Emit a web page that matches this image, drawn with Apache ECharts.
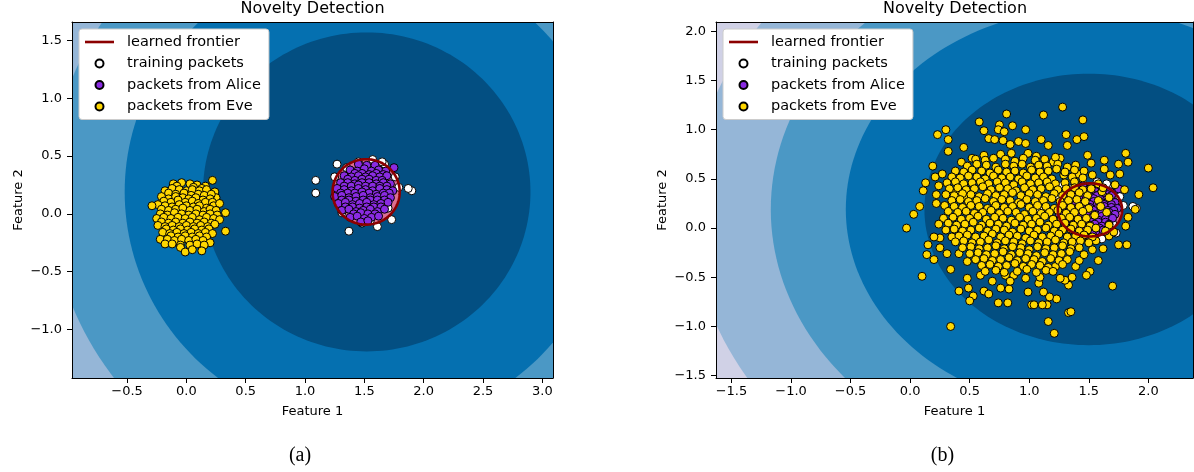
<!DOCTYPE html>
<html>
<head>
<meta charset="utf-8">
<title>Novelty Detection</title>
<script src="https://cdn.jsdelivr.net/npm/echarts@6/dist/echarts.min.js"></script>
<style>
  html, body { margin: 0; padding: 0; background: #fff; }
  #chart { width: 1194px; height: 472px; }
</style>
</head>
<body>
<div id="chart"></div>
<script>
// ---- data ----
var titleText = 'Novelty Detection';
var captions = ['(a)', '(b)'];
var legendLabels = ['learned frontier', 'training packets', 'packets from Alice', 'packets from Eve'];

var xTicksA = [-0.5, 0, 0.5, 1, 1.5, 2, 2.5, 3];
var yTicksA = [-1, -0.5, 0, 0.5, 1, 1.5];
var xTicksB = [-1.5, -1, -0.5, 0, 0.5, 1, 1.5, 2];
var yTicksB = [-1.5, -1, -0.5, 0, 0.5, 1, 1.5, 2];
var xRangeA = [-0.964, 3.09], yRangeA = [-1.42, 1.66];
var xRangeB = [-1.63, 2.375], yRangeB = [-1.524, 2.095];

// contour bands of the decision function (outer to inner radius)
var levelRadii = [3.34, 2.67, 2.04, 1.38];
var levelColors = ['#95b6d7', '#4b98c5', '#0570b0', '#034f82'];
var outerColor = '#d0d1e6';
var bandCenterA = [1.52, 0.19], bandCenterB = [1.5, 0.19];

// learned frontier (level 0)
var frontierCenterA = [1.515, 0.19], frontierRadiusA = 0.283;
var frontierCenterB = [1.51, 0.185], frontierRadiusB = 0.27;

var trainPts = [[1.09,0.29],[1.09,0.18],[1.27,0.43],[1.25,0.32],[1.57,0.47],[1.67,0.43],[1.79,0.23],[1.9,0.2],
  [1.73,-0.05],[1.61,-0.11],[1.37,-0.15],[1.31,0.01],[1.28,0.19],[1.45,0.45],[1.35,0.4],[1.76,0.32],[1.7,0.05],
  [1.48,-0.08],[1.55,-0.06],[1.4,0.2],[1.5,0.25],[1.6,0.15],[1.55,0.3],[1.45,0.1],[1.87,0.22],[1.65,0.45]];

var alicePts = [[1.45,0.43],[1.52,0.42],[1.59,0.42],
  [1.38,0.38],[1.44,0.37],[1.5,0.39],[1.56,0.37],[1.62,0.38],[1.68,0.37],[1.75,0.4],
  [1.42,0.35],[1.48,0.35],[1.54,0.34],[1.6,0.35],[1.66,0.34],
  [1.33,0.33],[1.39,0.32],[1.45,0.33],[1.51,0.32],[1.57,0.33],[1.63,0.32],[1.69,0.33],
  [1.36,0.3],[1.42,0.29],[1.48,0.3],[1.54,0.3],[1.6,0.29],[1.65,0.29],
  [1.3,0.27],[1.36,0.27],[1.42,0.26],[1.48,0.27],[1.54,0.27],[1.6,0.26],[1.66,0.27],[1.72,0.26],
  [1.33,0.24],[1.39,0.24],[1.45,0.25],[1.51,0.24],[1.57,0.24],[1.63,0.24],[1.69,0.24],
  [1.27,0.22],[1.33,0.21],[1.39,0.2],[1.45,0.22],[1.51,0.21],[1.57,0.2],[1.63,0.22],[1.69,0.21],[1.74,0.2],
  [1.3,0.18],[1.36,0.18],[1.42,0.18],[1.48,0.19],[1.54,0.18],[1.6,0.17],[1.66,0.18],[1.71,0.18],
  [1.25,0.15],[1.31,0.16],[1.37,0.14],[1.43,0.15],[1.49,0.16],[1.55,0.14],[1.61,0.15],[1.67,0.16],[1.72,0.14],
  [1.31,0.12],[1.37,0.12],[1.43,0.11],[1.49,0.12],[1.55,0.12],[1.61,0.12],[1.67,0.12],
  [1.28,0.09],[1.34,0.1],[1.4,0.08],[1.46,0.09],[1.52,0.1],[1.58,0.08],[1.64,0.09],[1.7,0.1],
  [1.34,0.06],[1.4,0.06],[1.46,0.05],[1.52,0.06],[1.58,0.06],[1.64,0.06],
  [1.31,0.03],[1.37,0.04],[1.43,0.02],[1.49,0.03],[1.55,0.04],[1.61,0.02],[1.67,0.04],
  [1.41,0.0],[1.47,0.01],[1.53,0.0],[1.59,0.0],
  [1.38,-0.03],[1.44,-0.02],[1.5,-0.04],[1.56,-0.03],[1.62,-0.02],
  [1.47,-0.07],[1.53,-0.06]];

var evePtsA = [[-0.11,0.26],[-0.04,0.27],[0.03,0.26],[0.09,0.25],[0.16,0.24],[0.22,0.29],[-0.08,0.24],[0.06,0.23],[0.13,0.22],
  [-0.18,0.2],[-0.12,0.22],[-0.06,0.21],[0.0,0.2],[0.05,0.21],[0.11,0.2],[0.17,0.21],[0.24,0.19],[0.25,0.14],
  [-0.15,0.18],[-0.09,0.17],[-0.02,0.18],[0.04,0.16],[0.1,0.17],[0.15,0.16],[0.21,0.17],
  [-0.21,0.15],[-0.15,0.13],[-0.09,0.15],[-0.03,0.14],[0.02,0.13],[0.08,0.14],[0.14,0.12],[0.2,0.13],
  [-0.19,0.11],[-0.13,0.1],[-0.07,0.12],[-0.01,0.1],[0.05,0.11],[0.1,0.09],[0.16,0.1],[0.22,0.1],
  [-0.24,0.08],[-0.18,0.07],[-0.12,0.06],[-0.06,0.08],[0.0,0.07],[0.06,0.06],[0.11,0.07],[0.17,0.05],[0.23,0.07],[0.28,0.09],
  [-0.29,0.07],[-0.21,0.04],[-0.15,0.03],[-0.09,0.04],[-0.03,0.05],[0.03,0.03],[0.09,0.04],[0.15,0.02],[0.2,0.04],[0.25,0.03],
  [-0.22,0.0],[-0.16,-0.01],[-0.1,0.01],[-0.04,0.0],[0.02,-0.01],[0.08,0.0],[0.14,-0.01],[0.2,0.0],[0.26,-0.01],[0.33,0.01],
  [-0.25,-0.04],[-0.19,-0.03],[-0.13,-0.04],[-0.07,-0.03],[-0.01,-0.04],[0.05,-0.03],[0.11,-0.05],[0.17,-0.03],[0.23,-0.04],[0.28,-0.05],
  [-0.21,-0.07],[-0.15,-0.08],[-0.09,-0.07],[-0.03,-0.08],[0.03,-0.07],[0.09,-0.08],[0.15,-0.07],[0.21,-0.08],
  [-0.24,-0.1],[-0.18,-0.11],[-0.12,-0.1],[-0.06,-0.11],[0.0,-0.1],[0.06,-0.11],[0.12,-0.1],[0.18,-0.11],[0.24,-0.09],
  [-0.17,-0.13],[-0.11,-0.14],[-0.05,-0.13],[0.01,-0.14],[0.07,-0.13],[0.13,-0.14],[0.19,-0.13],
  [-0.2,-0.16],[-0.14,-0.17],[-0.08,-0.16],[-0.02,-0.17],[0.04,-0.16],[0.1,-0.17],[0.16,-0.16],[0.22,-0.17],[0.33,-0.15],
  [-0.13,-0.19],[-0.07,-0.2],[-0.01,-0.19],[0.05,-0.2],[0.11,-0.19],[0.17,-0.2],
  [-0.22,-0.22],[-0.16,-0.22],[-0.1,-0.23],[-0.04,-0.22],[0.02,-0.23],[0.08,-0.22],[0.14,-0.23],[0.2,-0.25],
  [-0.18,-0.26],[-0.12,-0.26],[-0.05,-0.27],[0.03,-0.27],[0.09,-0.26],[0.15,-0.27],
  [-0.05,-0.29],[0.13,-0.32],[-0.01,-0.33],[0.05,-0.31]];

var evePtsB = [
  // sparse outskirts
  [1.28,1.23],[1.12,1.15],[0.81,1.16],[1.45,1.1],[0.58,1.08],[0.75,1.05],[0.86,1.04],[0.97,1.0],[0.3,1.0],[0.62,0.99],
  [0.74,1.0],[0.79,0.98],[0.23,0.95],[1.31,0.95],[1.46,0.93],[0.32,0.9],[1.4,0.9],[0.66,0.91],[0.71,0.9],[0.78,0.89],
  [0.84,0.85],[0.91,0.88],[1.1,0.9],[0.97,0.86],[1.16,0.84],[1.32,0.84],[0.45,0.82],[0.32,0.78],[1.81,0.76],[0.99,0.76],
  [1.49,0.74],[0.85,0.76],[0.76,0.75],[0.62,0.74],[0.52,0.71],[1.06,0.73],[1.26,0.71],[1.63,0.69],[1.83,0.67],[1.2,0.67],
  [0.43,0.67],[1.75,0.65],[1.52,0.66],[1.39,0.64],[0.19,0.63],[2.0,0.61],[1.63,0.6],[1.76,0.55],[1.68,0.54],[1.53,0.54],
  [1.41,0.55],[1.29,0.54],[0.27,0.55],[0.21,0.52],[0.13,0.46],[1.72,0.44],[2.04,0.41],[0.24,0.43],[1.8,0.39],[0.11,0.38],
  [1.92,0.34],[0.39,0.37],[0.22,0.34],[0.47,0.32],[0.22,0.25],[0.29,0.23],[0.08,0.22],[1.89,0.19],[0.41,0.18],[0.32,0.17],
  [0.03,0.14],[1.83,0.11],[1.81,0.02],[-0.03,0.0],
  [0.15,-0.17],[0.14,-0.27],[0.2,-0.32],[0.25,-0.2],[0.25,-0.1],[0.2,-0.09],[0.35,-0.09],[0.31,-0.26],[0.41,-0.26],[0.1,-0.49],
  [0.34,-0.42],[0.48,-0.34],[0.48,-0.51],[0.59,-0.48],[0.49,-0.61],[0.41,-0.64],[0.53,-0.69],[0.5,-0.74],[0.62,-0.64],[0.66,-0.67],
  [0.69,-0.54],[0.74,-0.76],[0.82,-0.76],[0.76,-0.61],[0.83,-0.62],[0.8,-0.48],[0.87,-0.48],[0.84,-0.54],[0.34,-1.0],[1.75,-0.17],
  [1.82,-0.17],[1.58,-0.33],[1.51,-0.44],[1.48,-0.48],[1.7,-0.59],[1.36,-0.5],[1.33,-0.58],[1.3,-0.53],[1.23,-0.72],[1.17,-0.7],
  [1.15,-0.78],[1.11,-0.78],[1.02,-0.78],[0.99,-0.65],[1.12,-0.65],[1.33,-0.86],[1.16,-0.95],[1.21,-1.07],[0.97,-0.51],[1.08,-0.56],
  [1.09,-0.5],[1.26,-0.51],[1.22,-0.39],[1.39,-0.39],[1.42,-0.33],[1.46,-0.27],[1.53,-0.22],[1.62,-0.21],[1.56,-0.13],[1.67,-0.08],
  [1.71,-0.04],[1.04,-0.78],[1.35,-0.85],
  // inside the frontier
  [1.61,0.37],[1.67,0.31],[1.58,0.28],[1.55,0.13],[1.65,0.16],[1.51,0.03],[1.6,0.22],
  // dense core
  [0.55,0.7],[0.63,0.69],[0.7,0.71],[0.8,0.7],[0.88,0.68],[0.95,0.71],[1.05,0.69],[1.13,0.7],[1.22,0.72],
  [0.48,0.63],[0.56,0.65],[0.64,0.64],[0.72,0.62],[0.8,0.65],[0.87,0.63],[0.94,0.65],[1.01,0.62],[1.08,0.64],[1.15,0.63],[1.24,0.65],[1.32,0.62],
  [0.38,0.58],[0.45,0.57],[0.52,0.59],[0.6,0.58],[0.67,0.56],[0.74,0.59],[0.81,0.57],[0.88,0.58],[0.95,0.56],[1.02,0.59],[1.09,0.57],[1.16,0.58],[1.23,0.6],[1.3,0.57],[1.38,0.59],[1.46,0.58],
  [0.35,0.52],[0.42,0.51],[0.49,0.53],[0.56,0.52],[0.63,0.5],[0.7,0.53],[0.77,0.51],[0.84,0.52],[0.91,0.5],[0.98,0.53],[1.05,0.51],[1.12,0.52],[1.19,0.5],[1.36,0.52],[1.45,0.51],
  [0.31,0.46],[0.38,0.47],[0.45,0.45],[0.52,0.46],[0.59,0.47],[0.66,0.45],[0.73,0.47],[0.8,0.46],[0.87,0.44],[0.94,0.47],[1.01,0.45],[1.08,0.46],[1.15,0.47],[1.22,0.45],[1.3,0.46],[1.38,0.47],[1.58,0.45],
  [0.33,0.4],[0.4,0.41],[0.47,0.39],[0.54,0.4],[0.61,0.42],[0.68,0.39],[0.75,0.41],[0.82,0.4],[0.89,0.38],[0.96,0.41],[1.03,0.39],[1.1,0.4],[1.17,0.42],[1.24,0.39],[1.31,0.4],[1.38,0.41],[1.45,0.39],[1.52,0.4],[1.62,0.41],
  [0.3,0.34],[0.37,0.33],[0.44,0.35],[0.51,0.34],[0.58,0.32],[0.65,0.35],[0.72,0.33],[0.79,0.34],[0.86,0.36],[0.93,0.33],[1.0,0.35],[1.07,0.34],[1.14,0.32],[1.21,0.35],[1.28,0.33],[1.35,0.34],[1.42,0.36],[1.49,0.33],
  [0.35,0.28],[0.42,0.29],[0.49,0.27],[0.56,0.28],[0.63,0.3],[0.7,0.27],[0.77,0.29],[0.84,0.28],[0.91,0.26],[0.98,0.29],[1.05,0.27],[1.12,0.28],[1.19,0.3],[1.26,0.27],[1.33,0.28],[1.4,0.29],[1.47,0.27],
  [0.37,0.22],[0.44,0.21],[0.51,0.23],[0.58,0.22],[0.65,0.2],[0.72,0.23],[0.79,0.21],[0.86,0.22],[0.93,0.24],[1.0,0.21],[1.07,0.23],[1.14,0.22],[1.21,0.2],[1.28,0.23],[1.35,0.21],[1.42,0.22],[1.5,0.2],
  [0.4,0.16],[0.47,0.17],[0.54,0.15],[0.61,0.16],[0.68,0.18],[0.75,0.15],[0.82,0.17],[0.89,0.16],[0.96,0.14],[1.03,0.17],[1.1,0.15],[1.17,0.16],[1.24,0.18],[1.31,0.15],[1.38,0.16],[1.45,0.17],
  [0.28,0.1],[0.36,0.11],[0.43,0.09],[0.5,0.1],[0.57,0.12],[0.64,0.09],[0.71,0.11],[0.78,0.1],[0.85,0.08],[0.92,0.11],[0.99,0.09],[1.06,0.1],[1.13,0.12],[1.2,0.09],[1.27,0.1],[1.34,0.11],[1.41,0.09],[1.48,0.1],
  [0.24,0.04],[0.32,0.05],[0.39,0.03],[0.46,0.04],[0.53,0.06],[0.6,0.03],[0.67,0.05],[0.74,0.04],[0.81,0.02],[0.88,0.05],[0.95,0.03],[1.02,0.04],[1.09,0.06],[1.16,0.03],[1.23,0.04],[1.3,0.05],[1.37,0.03],[1.44,0.04],[1.51,0.02],[1.67,0.03],
  [0.3,-0.02],[0.37,-0.01],[0.44,-0.03],[0.51,-0.02],[0.58,0.0],[0.65,-0.03],[0.72,-0.01],[0.79,-0.02],[0.86,-0.04],[0.93,-0.01],[1.0,-0.03],[1.07,-0.02],[1.14,0.0],[1.21,-0.03],[1.28,-0.02],[1.35,-0.01],[1.42,-0.03],[1.49,-0.02],[1.56,0.0],[1.64,-0.03],
  [0.41,-0.08],[0.48,-0.07],[0.55,-0.09],[0.62,-0.08],[0.69,-0.06],[0.76,-0.09],[0.83,-0.07],[0.9,-0.08],[0.97,-0.1],[1.04,-0.07],[1.11,-0.09],[1.18,-0.08],[1.25,-0.06],[1.32,-0.09],[1.39,-0.08],[1.46,-0.07],[1.53,-0.09],
  [0.38,-0.14],[0.45,-0.13],[0.52,-0.15],[0.59,-0.14],[0.66,-0.12],[0.73,-0.15],[0.8,-0.13],[0.87,-0.14],[0.94,-0.16],[1.01,-0.13],[1.08,-0.15],[1.15,-0.14],[1.22,-0.12],[1.29,-0.15],[1.36,-0.14],[1.43,-0.13],[1.5,-0.15],
  [0.44,-0.2],[0.51,-0.19],[0.58,-0.21],[0.65,-0.2],[0.72,-0.18],[0.79,-0.21],[0.86,-0.19],[0.93,-0.2],[1.0,-0.22],[1.07,-0.19],[1.14,-0.21],[1.21,-0.2],[1.28,-0.18],[1.35,-0.21],[1.42,-0.2],
  [0.5,-0.26],[0.57,-0.25],[0.64,-0.27],[0.71,-0.26],[0.78,-0.24],[0.85,-0.27],[0.92,-0.25],[0.99,-0.26],[1.06,-0.28],[1.13,-0.25],[1.2,-0.27],[1.27,-0.26],[1.34,-0.24],
  [0.55,-0.32],[0.62,-0.31],[0.69,-0.33],[0.76,-0.32],[0.83,-0.3],[0.9,-0.33],[0.97,-0.31],[1.04,-0.32],[1.11,-0.34],[1.18,-0.31],[1.25,-0.33],[1.32,-0.32],
  [0.6,-0.38],[0.67,-0.37],[0.74,-0.39],[0.81,-0.38],[0.88,-0.36],[0.95,-0.39],[1.02,-0.37],[1.09,-0.38],[1.16,-0.4],[1.28,-0.37],
  [0.63,-0.44],[0.72,-0.43],[0.79,-0.45],[0.9,-0.44],[0.98,-0.42],[1.06,-0.45],[1.14,-0.43],[1.2,-0.44]];

// ---- styling ----
var FONT = 'DejaVu Sans';
var colorFrontier = '#8b0000', colorInside = '#db7093';
var colorTrain = '#ffffff', colorAlice = '#8a2be2', colorEve = '#ffd700';

function tickFmt(v) {
  return (v < 0 ? '\u2212' : '') + Math.abs(v).toFixed(1);
}

function circlePoints(api, c, r) {
  var pts = [];
  for (var k = 0; k < 200; k++) {
    var a = k / 200 * 2 * Math.PI;
    pts.push(api.coord([c[0] + r * Math.cos(a), c[1] + r * Math.sin(a)]));
  }
  return pts;
}

function bandSeries(idx, center) {
  return {
    type: 'custom', xAxisIndex: idx, yAxisIndex: idx, clip: true, silent: true, z: 1,
    data: levelRadii.map(function (r, i) { return [r, i]; }),
    renderItem: function (params, api) {
      return {
        type: 'polygon',
        shape: { points: circlePoints(api, center, api.value(0)) },
        style: { fill: levelColors[api.value(1)] }
      };
    }
  };
}

// pink inside of the frontier (under the points) or the frontier line itself (over them)
function frontierSeries(idx, center, radius, asLine) {
  return {
    type: 'custom', xAxisIndex: idx, yAxisIndex: idx, clip: true, silent: true, z: asLine ? 6 : 2,
    data: [[radius, 0]],
    renderItem: function (params, api) {
      var pts = circlePoints(api, center, api.value(0));
      return {
        type: 'polygon', shape: { points: pts },
        style: asLine ? { fill: 'none', stroke: colorFrontier, lineWidth: 2.6 } : { fill: colorInside }
      };
    }
  };
}

function scatter(name, idx, data, color, z) {
  return {
    name: name, type: 'scatter', xAxisIndex: idx, yAxisIndex: idx, data: data,
    symbol: 'circle', symbolSize: 8, silent: true, z: z,
    itemStyle: { color: color, borderColor: '#000', borderWidth: 1, opacity: 1 }
  };
}

function legendLine(idx) {
  return {
    name: legendLabels[0], type: 'line', xAxisIndex: idx, yAxisIndex: idx, data: [],
    symbol: 'none', color: colorFrontier, lineStyle: { color: colorFrontier, width: 2.6 }
  };
}

function xMain(grid, range, ticks) {
  return {
    gridIndex: grid, type: 'value', min: range[0], max: range[1], z: 10,
    axisLine: { show: true, onZero: false, lineStyle: { color: '#000', width: 1 } },
    axisTick: { show: true, customValues: ticks, length: 5, lineStyle: { color: '#000', width: 1 } },
    axisLabel: { customValues: ticks, formatter: tickFmt, fontFamily: FONT, fontSize: 13, color: '#000', margin: 7 },
    splitLine: { show: false },
    name: 'Feature 1', nameLocation: 'middle', nameGap: 27,
    nameTextStyle: { fontFamily: FONT, fontSize: 13, color: '#000' }
  };
}
function yMain(grid, range, ticks) {
  return {
    gridIndex: grid, type: 'value', min: range[0], max: range[1], z: 10,
    axisLine: { show: true, onZero: false, lineStyle: { color: '#000', width: 1 } },
    axisTick: { show: true, customValues: ticks, length: 5, lineStyle: { color: '#000', width: 1 } },
    axisLabel: { customValues: ticks, formatter: tickFmt, fontFamily: FONT, fontSize: 13, color: '#000', margin: 10 },
    splitLine: { show: false },
    name: 'Feature 2', nameLocation: 'middle', nameGap: 47,
    nameTextStyle: { fontFamily: FONT, fontSize: 13, color: '#000' }
  };
}
function frameAxis(grid, range, pos) {
  return {
    gridIndex: grid, type: 'value', min: range[0], max: range[1], position: pos, z: 10,
    axisLine: { show: true, onZero: false, lineStyle: { color: '#000', width: 1 } },
    axisTick: { show: false }, axisLabel: { show: false }, splitLine: { show: false }
  };
}

function legendAt(left) {
  return {
    left: left, top: 29, orient: 'vertical', selectedMode: false, z: 20,
    data: legendLabels.map(function (n, i) {
      return i === 0 ? { name: n, icon: 'path://M0,0H29V2.6H0Z' } : { name: n, icon: 'circle' };
    }),
    itemWidth: 29, itemHeight: 8, itemGap: 5.5,
    backgroundColor: '#ffffff', borderColor: '#cccccc', borderWidth: 1, borderRadius: 3,
    padding: [5, 8, 5, 6],
    textStyle: { fontFamily: FONT, fontSize: 14.5, color: '#000', lineHeight: 16, padding: [0, 0, 0, 8] }
  };
}

function label(text, x, y, font) {
  return { type: 'text', x: x, y: y, z: 30,
    style: { text: text, font: font, fill: '#000', align: 'center', verticalAlign: 'middle' } };
}

var chart = echarts.init(document.getElementById('chart'), null, { renderer: 'canvas' });
chart.setOption({
  animation: false,
  backgroundColor: '#ffffff',
  grid: [
    { left: 72, top: 22, width: 481, height: 356, show: true, backgroundColor: outerColor, borderWidth: 0 },
    { left: 716, top: 22, width: 477, height: 356, show: true, backgroundColor: outerColor, borderWidth: 0 }
  ],
  xAxis: [xMain(0, xRangeA, xTicksA), xMain(1, xRangeB, xTicksB), frameAxis(0, xRangeA, 'top'), frameAxis(1, xRangeB, 'top')],
  yAxis: [yMain(0, yRangeA, yTicksA), yMain(1, yRangeB, yTicksB), frameAxis(0, yRangeA, 'right'), frameAxis(1, yRangeB, 'right')],
  legend: [legendAt(79), legendAt(723)],
  graphic: [
    label(titleText, 312.5, 9, '16px "DejaVu Sans"'),
    label(titleText, 955, 9, '16px "DejaVu Sans"'),
    label(captions[0], 300, 456, '20px "Liberation Serif"'),
    label(captions[1], 942.5, 456, '20px "Liberation Serif"')
  ],
  series: [
    bandSeries(0, bandCenterA),
    frontierSeries(0, frontierCenterA, frontierRadiusA, false),
    legendLine(0),
    scatter(legendLabels[1], 0, trainPts, colorTrain, 3),
    scatter(legendLabels[2], 0, alicePts, colorAlice, 4),
    scatter(legendLabels[3], 0, evePtsA, colorEve, 5),
    frontierSeries(0, frontierCenterA, frontierRadiusA, true),
    bandSeries(1, bandCenterB),
    frontierSeries(1, frontierCenterB, frontierRadiusB, false),
    legendLine(1),
    scatter(legendLabels[1], 1, trainPts, colorTrain, 3),
    scatter(legendLabels[2], 1, alicePts, colorAlice, 4),
    scatter(legendLabels[3], 1, evePtsB, colorEve, 5),
    frontierSeries(1, frontierCenterB, frontierRadiusB, true)
  ]
});
</script>
</body>
</html>
